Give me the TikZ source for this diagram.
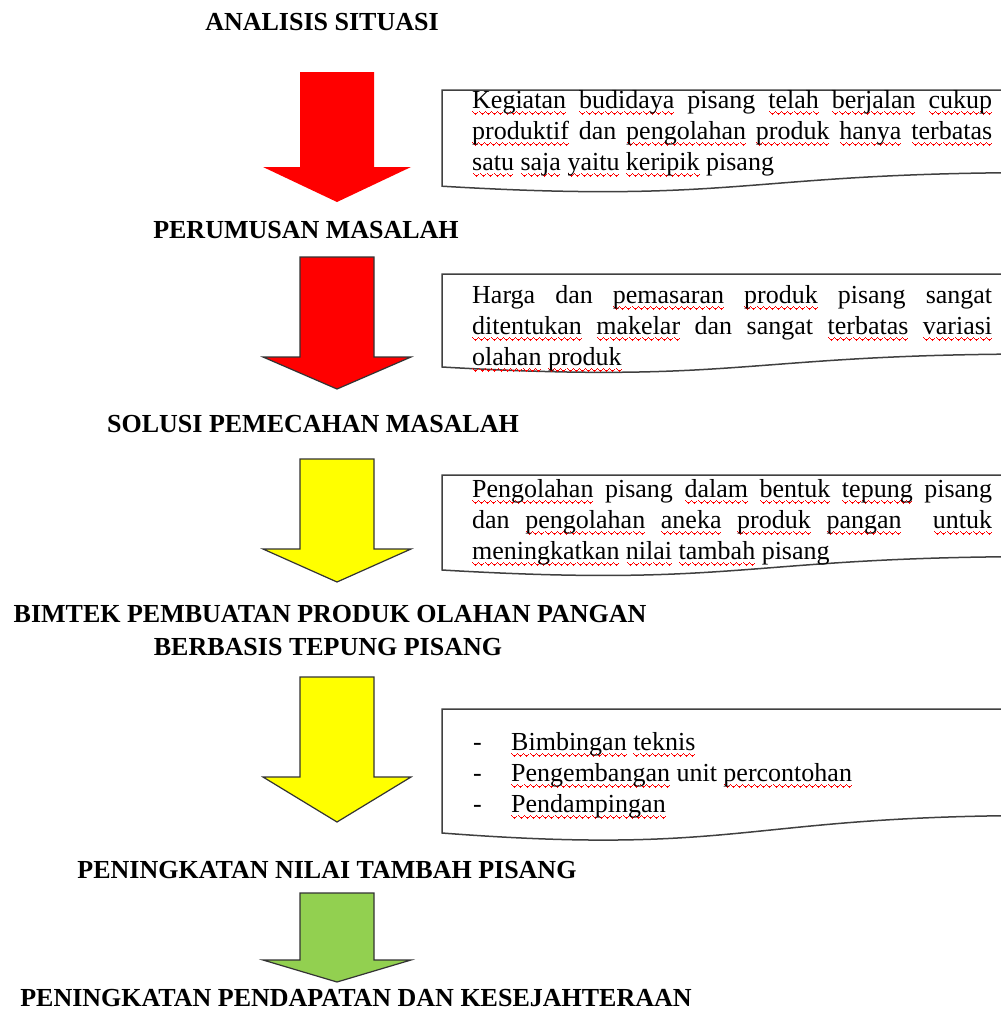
\documentclass[tikz,border=0pt]{standalone}
\usepackage{fontspec}
\setmainfont{Liberation Serif}
\usepackage{xcolor}
\newcommand\wavebit{\hbox{\rule[-4.2pt]{1pt}{1.6pt}\rule[-5.2pt]{1pt}{1.6pt}\rule[-6.2pt]{1pt}{1.6pt}\rule[-7pt]{1pt}{1.6pt}\rule[-6.2pt]{1pt}{1.6pt}\rule[-5.2pt]{1pt}{1.6pt}}}
\newcommand\sq[1]{\setbox0\hbox{#1}\rlap{\color{red}\hbox to\wd0{\xleaders\wavebit\hfil}}\box0\relax}
\newcommand\jl[1]{\makebox[520pt][s]{#1}}
\definecolor{arrowred}{RGB}{255,0,0}
\definecolor{arrowyellow}{RGB}{255,255,0}
\definecolor{arrowgreen}{RGB}{146,208,80}
\begin{document}
\begin{tikzpicture}[x=1pt,y=-1pt,
  title/.style={font=\fontsize{26}{31}\selectfont\bfseries, inner sep=0pt, anchor=base},
  body/.style={font=\fontsize{26}{31}\selectfont, inner sep=0pt, anchor=base west},
  docbox/.style={draw=black!75, line width=1.5pt, fill=white},
  flow/.style={draw=black!80, line width=1.2pt, line join=miter},
]
\useasboundingbox (0,0) rectangle (1001,1012);
\clip (0,0) rectangle (1001,1012);
\fill[white] (0,0) rectangle (1001,1012);

% titles
\node[title] (t1) at (322,30) {ANALISIS SITUASI};
\node[title] (t2) at (306,238) {PERUMUSAN MASALAH};
\node[title] (t3) at (313,432) {SOLUSI PEMECAHAN MASALAH};
\node[title] (t4a) at (330,622) {BIMTEK PEMBUATAN PRODUK OLAHAN PANGAN};
\node[title] (t4b) at (328,655) {BERBASIS TEPUNG PISANG};
\node[title] (t5) at (327,878) {PENINGKATAN NILAI TAMBAH PISANG};
\node[title] (t6) at (356,1006) {PENINGKATAN PENDAPATAN DAN KESEJAHTERAAN};

% arrows
\fill[arrowred] (300,72) -- (374,72) -- (374,167) -- (411,167) -- (337,202) -- (263,167) -- (300,167) -- cycle;
\filldraw[flow, fill=arrowred] (300,257) -- (374,257) -- (374,357) -- (411,357) -- (337,389) -- (263,357) -- (300,357) -- cycle;
\filldraw[flow, fill=arrowyellow] (300,459) -- (374,459) -- (374,549) -- (411,549) -- (337,582) -- (263,549) -- (300,549) -- cycle;
\filldraw[flow, fill=arrowyellow] (300,677) -- (374,677) -- (374,777) -- (411,777) -- (337,822) -- (263,777) -- (300,777) -- cycle;
\filldraw[flow, fill=arrowgreen] (300,893) -- (374,893) -- (374,960) -- (411,960) -- (337,982) -- (263,960) -- (300,960) -- cycle;

% document boxes
\draw[docbox] (442,90) -- (1042,90) -- (1042,172.6) .. controls (742,172.6) and (742,204) .. (442,186.2) -- cycle;
\draw[docbox] (442,274) -- (1042,274) -- (1042,354) .. controls (742,354) and (742,384.3) .. (442,367) -- cycle;
\draw[docbox] (442,475) -- (1042,475) -- (1042,556.6) .. controls (742,556.6) and (742,587.7) .. (442,570) -- cycle;
\draw[docbox] (442,709) -- (1042,709) -- (1042,815.5) .. controls (742,815.5) and (742,856) .. (442,833) -- cycle;

% box 1 text
\node[body] (b1a) at (472,108) {\jl{\sq{Kegiatan} \sq{budidaya} pisang \sq{telah} \sq{berjalan} \sq{cukup}}};
\node[body] (b1b) at (472,139) {\jl{\sq{produktif} dan \sq{pengolahan} \sq{produk} \sq{hanya} \sq{terbatas}}};
\node[body] (b1c) at (472,170) {\sq{satu} \sq{saja} \sq{yaitu} \sq{keripik} pisang};

% box 2 text
\node[body] (b2a) at (472,303) {\jl{Harga dan \sq{pemasaran} \sq{produk} pisang sangat}};
\node[body] (b2b) at (472,334) {\jl{\sq{ditentukan} \sq{makelar} dan sangat \sq{terbatas} \sq{variasi}}};
\node[body] (b2c) at (472,365) {\sq{olahan} \sq{produk}};

% box 3 text
\node[body] (b3a) at (472,497) {\jl{\sq{Pengolahan} pisang \sq{dalam} \sq{bentuk} \sq{tepung} pisang}};
\node[body] (b3b) at (472,528) {\jl{dan \sq{pengolahan} \sq{aneka} \sq{produk} \sq{pangan}\ \ \sq{untuk}}};
\node[body] (b3c) at (472,559) {\sq{meningkatkan} \sq{nilai} \sq{tambah} pisang};

% box 4 text
\node[body] (d1) at (473,750) {-};
\node[body] (d2) at (473,781) {-};
\node[body] (d3) at (473,812) {-};
\node[body] (b4a) at (511,750) {\sq{Bimbingan} \sq{teknis}};
\node[body] (b4b) at (511,781) {\sq{Pengembangan} unit \sq{percontohan}};
\node[body] (b4c) at (511,812) {\sq{Pendampingan}};
\end{tikzpicture}
\end{document}
